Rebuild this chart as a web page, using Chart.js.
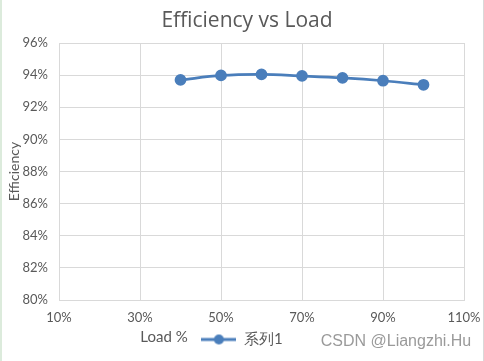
<!DOCTYPE html>
<html>
<head>
<meta charset="utf-8">
<script src="https://cdn.jsdelivr.net/npm/chart.js@4"></script>
<style>
  body { margin: 0; background: #fff; }
  #wrap { position: relative; width: 484px; height: 361px; }
  #edgeL { position: absolute; left: 0; top: 0; width: 2px; height: 361px; background: #dcebdc; }
  #edgeR { position: absolute; left: 483px; top: 0; width: 1px; height: 361px; background: #d9d9d9; }
</style>
</head>
<body>
<div id="wrap">
  <canvas id="chart" width="484" height="361"></canvas>
  <div id="edgeL"></div>
  <div id="edgeR"></div>
</div>
<script>
const loads = [40, 50, 60, 70, 80, 90, 100];
const efficiency = [93.7, 93.98, 94.05, 93.95, 93.83, 93.65, 93.4];
const seriesName = "系列1";
const chartTitle = "Efficiency vs Load";

const lineColor = "#4a7ebb";
const textColor = "#595959";
const gridColor = "#d9d9d9";
const font = "Lato";

// legend marker: short line with a dot in the middle
function makeMarker() {
    const c = document.createElement("canvas");
    c.width = 35;
    c.height = 12;
    const g = c.getContext("2d");
    g.strokeStyle = lineColor;
    g.lineWidth = 3;
    g.beginPath();
    g.moveTo(0, 6);
    g.lineTo(35, 6);
    g.stroke();
    g.fillStyle = lineColor;
    g.beginPath();
    g.arc(17.5, 6, 5, 0, Math.PI * 2);
    g.fill();
    return c;
}

// title, x axis title and watermark sit off-centre in the original
const extraText = {
    id: "extraText",
    afterDraw(chart) {
        const ctx = chart.ctx;
        ctx.save();
        ctx.textBaseline = "middle";
        ctx.textAlign = "center";
        ctx.fillStyle = textColor;
        ctx.font = "21px 'Open Sans'";
        ctx.fillText(chartTitle, 247, 21);
        ctx.font = "15px " + font;
        ctx.fillText("Load %", 164, 337);
        ctx.fillStyle = "#9a9a9a";
        ctx.font = "16px 'Liberation Sans'";
        ctx.fillText("CSDN @Liangzhi.Hu", 396, 342);
        ctx.restore();
    }
};

new Chart(document.getElementById("chart"), {
    type: "line",
    data: {
        datasets: [{
            label: seriesName,
            data: loads.map((x, i) => ({ x, y: efficiency[i] })),
            borderColor: lineColor,
            backgroundColor: lineColor,
            borderWidth: 2.75,
            pointRadius: 4.5,
            pointHoverRadius: 4.5,
            pointStyle: "circle",
            tension: 0.35
        }]
    },
    options: {
        responsive: false,
        animation: false,
        layout: { padding: { left: 0, right: 0, top: 43, bottom: 4 } },
        plugins: {
            title: { display: false },
            legend: {
                position: "bottom",
                labels: {
                    usePointStyle: true,
                    pointStyle: makeMarker(),
                    pointStyleWidth: 35,
                    color: textColor,
                    font: { family: font, size: 15 },
                    padding: 5
                }
            },
            tooltip: { enabled: false }
        },
        scales: {
            x: {
                type: "linear",
                min: 10,
                max: 110,
                ticks: {
                    stepSize: 20,
                    color: textColor,
                    font: { family: font, size: 13 },
                    padding: 10,
                    callback: v => v + "%"
                },
                grid: { color: gridColor, drawTicks: false },
                border: { color: gridColor },
                afterFit: s => { s.height = 27; s.paddingRight = 20; }
            },
            y: {
                min: 80,
                max: 96,
                ticks: {
                    stepSize: 2,
                    color: textColor,
                    font: { family: font, size: 13 },
                    padding: 11,
                    callback: v => v + "%"
                },
                grid: { color: gridColor, drawTicks: false },
                border: { color: gridColor },
                title: {
                    display: true,
                    text: "Efficiency",
                    color: textColor,
                    font: { family: font, size: 14 },
                    padding: { top: 6, bottom: 0 }
                },
                afterFit: s => { s.width = 59; s.paddingTop = 0; }
            }
        }
    },
    plugins: [extraText]
});
</script>
</body>
</html>
